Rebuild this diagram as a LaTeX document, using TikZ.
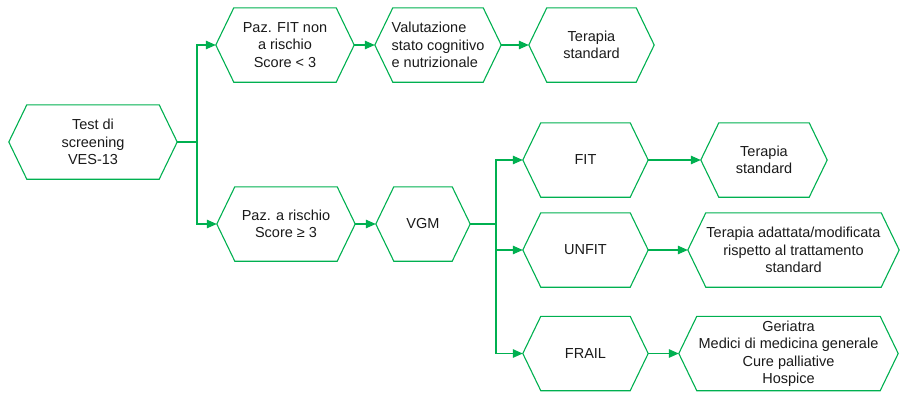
\documentclass[tikz,border=0pt]{standalone}
\usepackage{fontspec}
\setmainfont{Liberation Sans}
\usetikzlibrary{arrows.meta}
\definecolor{flowgreen}{RGB}{0,176,80}
\definecolor{inktext}{RGB}{26,26,26}

\begin{document}
\begin{tikzpicture}[x=1pt,y=-1pt,
  hexnode/.style={shape=rectangle, inner sep=0pt, minimum height=74pt,
    minimum width=#1, align=center, text=inktext,
    font=\fontsize{14.5}{17.5}\selectfont},
  hexline/.style={draw=flowgreen, line width=1.1pt, line join=miter},
  link/.style={draw=flowgreen, line width=1.3pt},
  arrowlink/.style={link, -{Triangle[length=10pt,width=8.5pt]}},
]
\useasboundingbox (0,0) rectangle (900,392);

% boxes (each node spans tip to tip of its hexagon)
\node[hexnode=168pt] (test) at (93,142) {Test di\\screening\\VES-13};
\node[hexnode=138pt] (fitnon) at (285,45) {Paz. FIT non\\a rischio\\Score < 3};
\node[hexnode=126pt, align=left] (valut) at (438,45) {Valutazione\\stato cognitivo\\e nutrizionale};
\node[hexnode=125pt] (ter1) at (591.5,45) {Terapia\\standard};
\node[hexnode=138pt] (risk) at (286,224) {Paz. a rischio\\Score ≥ 3};
\node[hexnode=94pt] (vgm) at (423,224) {VGM};
\node[hexnode=125pt] (fit) at (585.5,160) {FIT};
\node[hexnode=126pt] (ter2) at (764,160) {Terapia\\standard};
\node[hexnode=125pt] (unfit) at (585.5,250) {UNFIT};
\node[hexnode=211pt] (adatt) at (793.5,250) {Terapia adattata/modificata\\rispetto al trattamento\\standard};
\node[hexnode=125pt] (frail) at (585.5,353.5) {FRAIL};
\node[hexnode=219pt] (geri) at (788.5,353.5) {Geriatra\\Medici di medicina generale\\Cure palliative\\Hospice};

% hexagon outlines
\foreach \n in {test,fitnon,valut,ter1,risk,vgm,fit,ter2,unfit,adatt,frail,geri}
  \draw[hexline] (\n.west) -- ([xshift=18pt]\n.north west) -- ([xshift=-18pt]\n.north east)
    -- (\n.east) -- ([xshift=-18pt]\n.south east) -- ([xshift=18pt]\n.south west) -- cycle;

% branch points
\coordinate (split1) at (197,142);
\coordinate (split2) at (496,224);

% connectors
\draw[link] (test.east) -- (split1);
\draw[arrowlink] (split1) |- (fitnon.west);
\draw[arrowlink] (split1) |- (risk.west);
\draw[arrowlink] (fitnon.east) -- (valut.west);
\draw[arrowlink] (valut.east) -- (ter1.west);
\draw[arrowlink] (risk.east) -- (vgm.west);
\draw[link] (vgm.east) -- (split2);
\draw[arrowlink] (split2) |- (fit.west);
\draw[arrowlink] (split2) |- (unfit.west);
\draw[arrowlink] (split2) |- (frail.west);
\draw[arrowlink] (fit.east) -- (ter2.west);
\draw[arrowlink] (unfit.east) -- (adatt.west);
\draw[arrowlink] (frail.east) -- (geri.west);
\end{tikzpicture}
\end{document}
